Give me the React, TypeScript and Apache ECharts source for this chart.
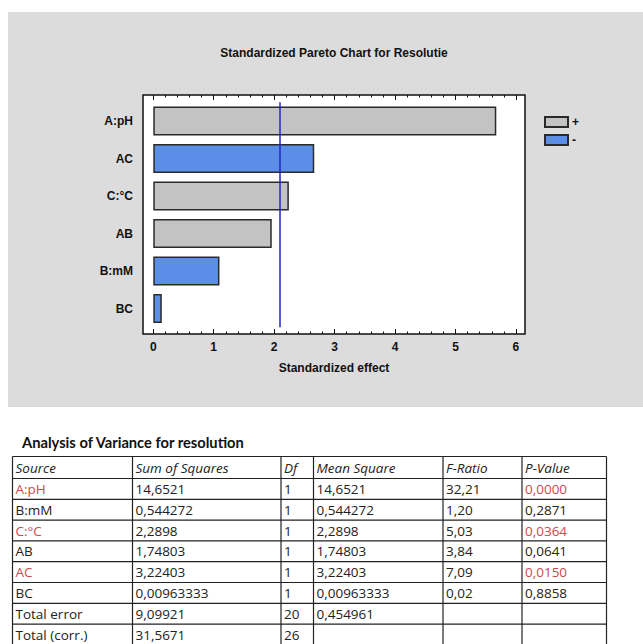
import React, { useEffect, useRef } from "react";
import * as echarts from "echarts";

// Pareto chart data: standardized effects (|t| values) of each term, and sign of the effect
const categories = ["A:pH", "AC", "C:°C", "AB", "B:mM", "BC"];
const effects = [5.675, 2.663, 2.243, 1.96, 1.095, 0.141];
const signs = ["+", "-", "+", "+", "-", "-"];
const criticalT = 2.086;
const xTickLabels = [0, 1, 2, 3, 4, 5, 6];
const xMinorStep = 0.2;

// ANOVA table
const anovaTitle = "Analysis of Variance for resolution";
const anovaHeader = ["Source", "Sum of Squares", "Df", "Mean Square", "F-Ratio", "P-Value"];
const anovaSource = ["A:pH", "B:mM", "C:°C", "AB", "AC", "BC", "Total error", "Total (corr.)"];
const anovaSS = ["14,6521", "0,544272", "2,2898", "1,74803", "3,22403", "0,00963333", "9,09921", "31,5671"];
const anovaDf = ["1", "1", "1", "1", "1", "1", "20", "26"];
const anovaMS = ["14,6521", "0,544272", "2,2898", "1,74803", "3,22403", "0,00963333", "0,454961", ""];
const anovaF = ["32,21", "1,20", "5,03", "3,84", "7,09", "0,02", "", ""];
const anovaP = ["0,0000", "0,2871", "0,0364", "0,0641", "0,0150", "0,8858", "", ""];

const ARIAL = "'Liberation Sans', Arial, sans-serif";
const TABLE_FONT = "'Open Sans', Lato, sans-serif";
const TITLE_FONT = "Lato, 'Open Sans', sans-serif";
const RED = "#c94a52";

const X_MIN = -0.17;
const X_MAX = 6.15;
const PLOT = { left: 143, top: 95, width: 382, height: 239 };

function buildTable(): any[] {
  const cols = [12.5, 132.5, 281, 313.5, 443, 522, 606.5];
  const top = 456.5;
  const headerH = 22;
  const rowH = 20.8;
  const rowCount = anovaSource.length;
  const rowTops: number[] = [top];
  for (let i = 0; i <= rowCount; i++) rowTops.push(top + headerH + i * rowH);
  const bottom = rowTops[rowTops.length - 1];
  const els: any[] = [];

  els.push({
    type: "text",
    x: 22,
    y: 441.5,
    style: {
      text: anovaTitle,
      font: `bold 14.7px ${TITLE_FONT}`,
      fill: "#111",
      textVerticalAlign: "middle",
    },
  });

  rowTops.forEach((y) => {
    els.push({
      type: "line",
      shape: { x1: cols[0], y1: y, x2: cols[cols.length - 1], y2: y },
      style: { stroke: "#222", lineWidth: 1.2 },
    });
  });
  cols.forEach((x) => {
    els.push({
      type: "line",
      shape: { x1: x, y1: top, x2: x, y2: bottom },
      style: { stroke: "#222", lineWidth: 1.2 },
    });
  });

  const cell = (text: string, col: number, yMid: number, color: string, italic: boolean) => {
    if (!text) return;
    els.push({
      type: "text",
      x: cols[col] + 3,
      y: yMid,
      style: {
        text,
        font: `${italic ? "italic " : ""}13.5px ${TABLE_FONT}`,
        fill: color,
        textVerticalAlign: "middle",
      },
    });
  };

  anovaHeader.forEach((h, c) => cell(h, c, top + headerH / 2 + 0.5, "#222", true));

  for (let r = 0; r < rowCount; r++) {
    const yMid = rowTops[r + 1] + rowH / 2;
    const pStr = anovaP[r];
    const significant = pStr !== "" && parseFloat(pStr.replace(",", ".")) < 0.05;
    const rowCells = [anovaSource[r], anovaSS[r], anovaDf[r], anovaMS[r], anovaF[r], anovaP[r]];
    rowCells.forEach((t, c) => {
      const red = significant && (c === 0 || c === 5);
      cell(t, c, yMid, red ? RED : "#222", false);
    });
  }
  return els;
}

function buildOption(): any {
  const majorTicks = xTickLabels.slice();
  const minorTicks: number[] = [];
  for (let i = 0; i <= Math.round(6 / xMinorStep); i++) minorTicks.push(Math.round(i * xMinorStep * 100) / 100);

  const frameAxis = (position: "top" | "bottom", ticks: number[], len: number, labels: boolean, name?: string) => ({
    type: "value",
    gridIndex: 0,
    position,
    min: X_MIN,
    max: X_MAX,
    axisLine: { show: false },
    splitLine: { show: false },
    axisTick: {
      show: true,
      inside: true,
      length: len,
      customValues: ticks,
      lineStyle: { color: "#111", width: 1 },
    },
    axisLabel: labels
      ? {
          show: true,
          customValues: xTickLabels,
          margin: 7,
          color: "#111",
          fontFamily: ARIAL,
          fontWeight: "bold",
          fontSize: 12,
        }
      : { show: false },
    name: name || "",
    nameLocation: "middle",
    nameGap: 28,
    nameTextStyle: { color: "#111", fontFamily: ARIAL, fontWeight: "bold", fontSize: 12 },
  });

  const barBase = {
    type: "bar",
    xAxisIndex: 4,
    yAxisIndex: 1,
    barWidth: 29,
    barGap: "-100%",
  };

  return {
    animation: false,
    backgroundColor: "#ffffff",
    textStyle: { fontFamily: ARIAL },
    graphic: [
      {
        type: "rect",
        z: -100,
        shape: { x: 8, y: 12, width: 635, height: 395 },
        style: { fill: "#dcdcdc" },
      },
      {
        type: "text",
        x: PLOT.left + PLOT.width / 2,
        y: 53,
        style: {
          text: "Standardized Pareto Chart for Resolutie",
          font: `bold 12px ${ARIAL}`,
          fill: "#111",
          textAlign: "center",
          textVerticalAlign: "middle",
        },
      },
      ...buildTable(),
    ],
    legend: {
      orient: "vertical",
      left: 539,
      top: 111,
      itemWidth: 23,
      itemHeight: 10,
      itemGap: 6,
      itemStyle: { borderRadius: 1 },
      icon: "rect",
      data: ["+", "-"],
      textStyle: { color: "#111", fontFamily: ARIAL, fontWeight: "bold", fontSize: 12, padding: [0, 0, 0, -1] },
    },
    grid: [
      {
        left: PLOT.left,
        top: PLOT.top,
        width: PLOT.width,
        height: PLOT.height,
        show: true,
        backgroundColor: "#ffffff",
        borderColor: "#111",
        borderWidth: 1.5,
      },
      {
        left: PLOT.left,
        top: 102.3,
        width: PLOT.width,
        height: 225,
      },
    ],
    xAxis: [
      frameAxis("bottom", majorTicks, 5, true, "Standardized effect"),
      frameAxis("bottom", minorTicks, 2.5, false),
      frameAxis("top", majorTicks, 5, false),
      frameAxis("top", minorTicks, 2.5, false),
      { type: "value", gridIndex: 1, min: X_MIN, max: X_MAX, show: false },
    ],
    yAxis: [
      { type: "value", gridIndex: 0, min: 0, max: 1, show: false },
      {
        type: "category",
        gridIndex: 1,
        data: categories,
        inverse: true,
        axisLine: { show: false },
        axisTick: { show: false },
        axisLabel: {
          margin: 10,
          color: "#111",
          fontFamily: ARIAL,
          fontWeight: "bold",
          fontSize: 12,
        },
      },
    ],
    series: [
      {
        ...barBase,
        name: "+",
        data: effects.map((v, i) => (signs[i] === "+" ? v : null)),
        itemStyle: { color: "#c3c3c3", borderColor: "#2a2a2a", borderWidth: 1.5 },
        markLine: {
          silent: true,
          symbol: ["none", "none"],
          label: { show: false },
          lineStyle: { color: "#2424c4", width: 1.5, type: "solid" },
          data: [{ xAxis: criticalT }],
        },
      },
      {
        ...barBase,
        name: "-",
        data: effects.map((v, i) => (signs[i] === "-" ? v : null)),
        itemStyle: { color: "#5b8ee6", borderColor: "#2a2a2a", borderWidth: 1.5 },
      },
    ],
  };
}

export default function App() {
  const ref = useRef<HTMLDivElement>(null);
  useEffect(() => {
    if (!ref.current) return;
    const chart = echarts.init(ref.current, null, { renderer: "svg" });
    chart.setOption(buildOption());
    return () => chart.dispose();
  }, []);
  return <div ref={ref} style={{ position: "absolute", left: 0, top: 0, width: 643, height: 644 }} />;
}
